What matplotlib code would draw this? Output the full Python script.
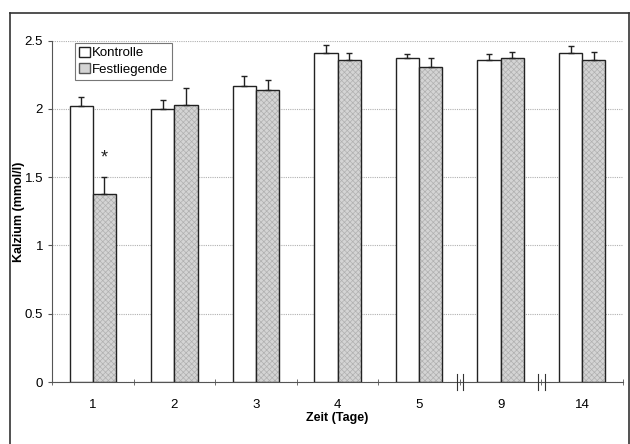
import matplotlib
matplotlib.use("Agg")
import matplotlib.pyplot as plt
import numpy as np
from matplotlib.lines import Line2D

plt.rcParams['font.family'] = ['Liberation Sans', 'DejaVu Sans']
plt.rcParams['hatch.linewidth'] = 0.5

days = ['1', '2', '3', '4', '5', '9', '14']
kontrolle = [2.02, 2.00, 2.17, 2.41, 2.37, 2.36, 2.41]
kontrolle_err = [0.07, 0.065, 0.075, 0.055, 0.035, 0.04, 0.05]
festliegende = [1.38, 2.03, 2.14, 2.36, 2.305, 2.37, 2.36]
festliegende_err = [0.12, 0.12, 0.075, 0.05, 0.07, 0.05, 0.06]
yticks = [0, 0.5, 1, 1.5, 2, 2.5]
ytick_labels = ['0', '0.5', '1', '1.5', '2', '2.5']

fig = plt.figure(figsize=(6.3, 4.44), dpi=100)
ax = fig.add_axes([52/630, 1-382/444, (623-52)/630, (382-40.7)/444])

x = np.arange(len(days))
w = 0.285
ax.bar(x - w/2, kontrolle, w, color='white', edgecolor='#222222', linewidth=1.0,
       label='Kontrolle', zorder=3)
# hatched fill (light grey hatch), then black outline on top
ax.bar(x + w/2, festliegende, w, color='#d4d4d4', edgecolor='#b0b0b0', linewidth=0,
       hatch='xxxxxx', zorder=3)
ax.bar(x + w/2, festliegende, w, fill=False, edgecolor='#222222', linewidth=1.0,
       zorder=3.5)
ax.errorbar(x - w/2, kontrolle, yerr=[np.zeros(len(x)), kontrolle_err], fmt='none',
            ecolor='#222222', elinewidth=1.0, capsize=2.5, capthick=1.0, zorder=4)
ax.errorbar(x + w/2, festliegende, yerr=[np.zeros(len(x)), festliegende_err], fmt='none',
            ecolor='#222222', elinewidth=1.0, capsize=2.5, capthick=1.0, zorder=4)

# significance marker
ax.text(x[0] + w/2, festliegende[0] + festliegende_err[0] + 0.08, '*', ha='center',
        va='bottom', fontsize=13, color='#222222')

ax.set_xlim(-0.5, len(days) - 0.5)
ax.set_ylim(0, 2.5)
ax.set_yticks(yticks)
ax.set_yticklabels(ytick_labels)
ax.set_xticks(x)
ax.set_xticklabels(days)
ax.tick_params(axis='x', length=0, labelsize=9.5, pad=12)
ax.tick_params(axis='y', length=3, direction='out', labelsize=9.5, color='#555555')
# boundary ticks
ax.set_xticks(np.arange(len(days) + 1) - 0.5, minor=True)
ax.tick_params(axis='x', which='minor', length=5, direction='inout', color='#555555')

ax.yaxis.grid(True, linestyle=(0, (1, 1)), color='#b0b0b0', linewidth=0.8, zorder=0)
ax.set_axisbelow(True)
for s in ['top', 'right']:
    ax.spines[s].set_visible(False)
ax.spines['left'].set_color('#555555')
ax.spines['bottom'].set_color('#555555')

# axis break marks
for b in [4.5, 5.5]:
    for d in [-0.04, 0.04]:
        ax.plot([b + d, b + d], [-0.06, 0.06], color='#333333', lw=0.8,
                clip_on=False, zorder=5)

ax.set_ylabel('Kalzium (mmol/l)', fontsize=9, fontweight='bold')
ax.yaxis.set_label_coords(-0.048, 0.5)
ax.set_xlabel('Zeit (Tage)', fontsize=9, fontweight='bold', labelpad=1)

import matplotlib.patches as mpatches
h_k = mpatches.Patch(facecolor='white', edgecolor='#222222', linewidth=1.0)
h_f = mpatches.Patch(facecolor='#d4d4d4', edgecolor='#555555', linewidth=1.0)
leg = ax.legend([h_k, h_f], ['Kontrolle', 'Festliegende'], loc='upper left',
                bbox_to_anchor=(23/571, 1.0 - 2/341.3), fontsize=9.5,
                frameon=True, fancybox=False, edgecolor='#555555',
                handlelength=0.8, handleheight=0.8, handletextpad=0.2,
                borderpad=0.3, labelspacing=0.3, borderaxespad=0)
leg.get_frame().set_linewidth(0.8)

# figure border
fig.add_artist(Line2D([10/630, 10/630], [0, 1-13/444], color='#333333', lw=1.2,
                      transform=fig.transFigure))
fig.add_artist(Line2D([10/630, 629/630], [1-13/444, 1-13/444], color='#333333', lw=1.2,
                      transform=fig.transFigure))
fig.add_artist(Line2D([629/630, 629/630], [0, 1-13/444], color='#333333', lw=1.2,
                      transform=fig.transFigure))

fig.savefig('out.png', dpi=100)
